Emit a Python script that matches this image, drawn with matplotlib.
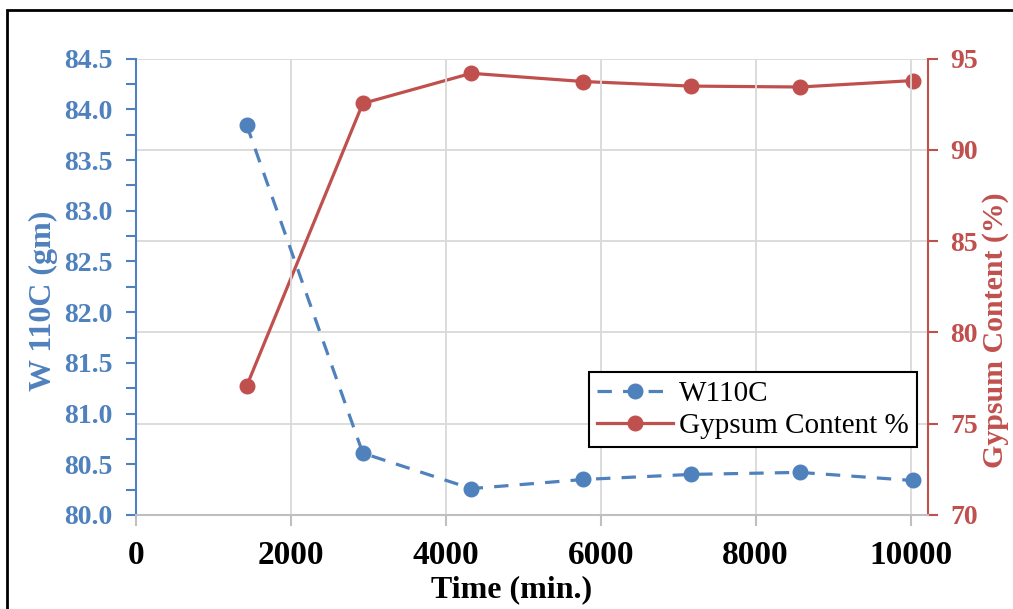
import matplotlib
matplotlib.use("Agg")
import matplotlib.pyplot as plt
from matplotlib.patches import Rectangle
from matplotlib.ticker import MultipleLocator, FormatStrFormatter

plt.rcParams['font.family'] = ['Liberation Serif', 'DejaVu Serif']

# data
time_min = [1430, 2930, 4330, 5775, 7165, 8570, 10025]
w110c = [83.85, 80.61, 80.26, 80.35, 80.40, 80.42, 80.34]
gypsum = [77.05, 92.55, 94.2, 93.75, 93.5, 93.45, 93.8]

BLUE = '#4f81bd'
RED = '#c0504d'
GRID = '#d9d9d9'

fig = plt.figure(figsize=(10.13, 6.09), dpi=100)
ax = fig.add_axes([0.134, 0.1544, 0.782, 0.7492])
ax2 = ax.twinx()

# left axis: W 110C
ax.set_xlim(0, 10223)
ax.set_ylim(80.0, 84.5)
ax.yaxis.set_major_locator(MultipleLocator(0.5))
ax.yaxis.set_minor_locator(MultipleLocator(0.25))
ax.xaxis.set_major_locator(MultipleLocator(2000))
ax.yaxis.set_major_formatter(FormatStrFormatter('%.1f'))

# right axis: gypsum
ax2.set_ylim(70, 95)
ax2.yaxis.set_major_locator(MultipleLocator(5))

# gridlines: vertical on x ticks, horizontal on right-axis ticks
ax.grid(False)
ax.xaxis.grid(True, color=GRID, linewidth=1.3)
ax2.yaxis.grid(True, color=GRID, linewidth=1.3)
ax.set_zorder(ax2.get_zorder() + 1)
ax.patch.set_visible(False)

l1, = ax.plot(time_min, w110c, color=BLUE, linestyle=(0, (4.5, 3.5)), linewidth=2.3,
              marker='o', markersize=10.5, label='W110C')
l2, = ax2.plot(time_min, gypsum, color=RED, linewidth=2.3,
               marker='o', markersize=10.5, label='Gypsum Content %')

for a in (ax, ax2):
    a.spines['top'].set_visible(False)
ax.spines['right'].set_visible(False)
ax2.spines['left'].set_visible(False)
ax2.spines['bottom'].set_visible(False)
ax.spines['left'].set_color(BLUE)
ax.spines['left'].set_linewidth(1.5)
ax.spines['bottom'].set_color('#bfbfbf')
ax.spines['bottom'].set_linewidth(1.5)
ax2.spines['right'].set_color(RED)
ax2.spines['right'].set_linewidth(1.5)

ax.tick_params(axis='y', which='both', colors=BLUE, length=7, width=1.5, direction='out')
ax.tick_params(axis='y', labelsize=20, pad=10)
ax.tick_params(axis='x', colors='#bfbfbf', length=8, width=1.5, labelsize=24,
               labelcolor='black', pad=10)
ax2.tick_params(axis='y', colors=RED, length=7, width=1.5, labelsize=20, pad=9)
for lab in ax.get_xticklabels() + ax.get_yticklabels() + ax2.get_yticklabels():
    lab.set_fontweight('bold')

ax.set_xlabel('Time (min.)', fontsize=23, fontweight='bold')
ax.xaxis.set_label_coords(0.475, -0.133)
ax.set_ylabel('W 110C (gm)', fontsize=23, fontweight='bold', color=BLUE)
ax.yaxis.set_label_coords(-0.098, 0.469)
ax2.set_ylabel('Gypsum Content (%)', fontsize=21.5, fontweight='bold', color=RED)
ax2.yaxis.set_label_coords(1.068, 0.405)

leg = ax.legend(handles=[l1, l2], loc='upper left', bbox_to_anchor=(0.572, 0.313),
                fontsize=21, frameon=True, fancybox=False, framealpha=1,
                edgecolor='black', handlelength=2.6, labelspacing=0.2,
                borderpad=0.28, handletextpad=0.2, borderaxespad=0)
leg.get_frame().set_linewidth(1.5)

# outer frame around the chart
fig.patches.append(Rectangle((7 / 1013, -0.2), 1.2, 1.2 - 10 / 609,
                             transform=fig.transFigure, fill=False,
                             edgecolor='black', linewidth=2))

fig.savefig('out.png', dpi=100)
